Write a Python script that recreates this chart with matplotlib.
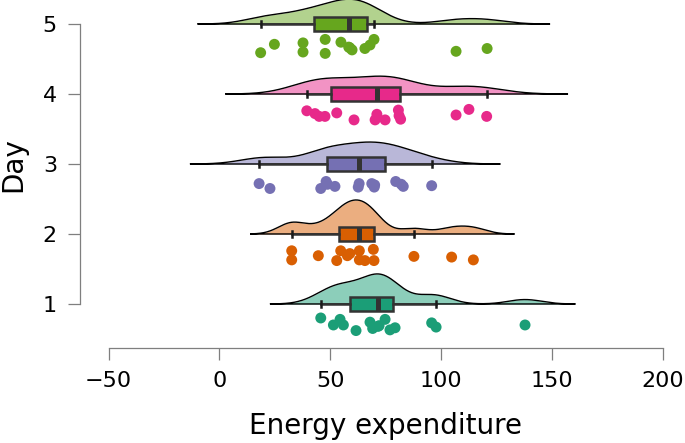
import numpy as np
import matplotlib.pyplot as plt

days = [1, 2, 3, 4, 5]
colors = ['#1b9e77', '#d95f02', '#7570b3', '#e7298a', '#66a61e']
x_ticks = [-50, 0, 50, 100, 150, 200]

# energy expenditure per day
energy_day1 = [45.7, 51.4, 54.4, 55.9, 61.6, 67.9, 69.1, 71.5, 72.0, 74.7, 76.9, 79.2, 95.7, 97.7, 137.8]
energy_day2 = [32.6, 32.6, 44.6, 52.9, 54.7, 57.7, 58.8, 63.1, 63.1, 65.6, 69.4, 69.7, 87.7, 104.7, 114.5]
energy_day3 = [17.9, 22.8, 45.7, 48.1, 48.7, 52.1, 62.6, 63.0, 68.7, 69.8, 70.0, 79.5, 82.0, 82.9, 95.7]
energy_day4 = [39.4, 43.1, 45.0, 47.6, 52.9, 60.7, 70.2, 71.0, 74.7, 80.7, 81.0, 81.7, 106.7, 112.5, 120.5]
energy_day5 = [18.6, 24.8, 37.7, 37.7, 47.7, 47.7, 54.8, 58.3, 58.8, 59.8, 65.6, 67.9, 69.7, 106.7, 120.7]

# vertical jitter of the rain points (below each day)
jitter_day1 = [0.20, 0.30, 0.22, 0.30, 0.38, 0.26, 0.35, 0.32, 0.31, 0.22, 0.37, 0.34, 0.27, 0.33, 0.30]
jitter_day2 = [0.24, 0.37, 0.31, 0.38, 0.24, 0.31, 0.28, 0.24, 0.37, 0.38, 0.22, 0.38, 0.32, 0.33, 0.37]
jitter_day3 = [0.28, 0.35, 0.35, 0.25, 0.29, 0.32, 0.33, 0.28, 0.28, 0.33, 0.30, 0.25, 0.29, 0.32, 0.31]
jitter_day4 = [0.24, 0.28, 0.32, 0.32, 0.27, 0.37, 0.37, 0.29, 0.37, 0.23, 0.31, 0.36, 0.30, 0.22, 0.32]
jitter_day5 = [0.41, 0.29, 0.27, 0.40, 0.22, 0.42, 0.26, 0.33, 0.34, 0.37, 0.35, 0.30, 0.22, 0.39, 0.35]

energy = [energy_day1, energy_day2, energy_day3, energy_day4, energy_day5]
jitter = [jitter_day1, jitter_day2, jitter_day3, jitter_day4, jitter_day5]


def bw_nrd0(x):
    x = np.asarray(x)
    q1, q3 = np.percentile(x, [25, 75])
    lo = min(np.std(x, ddof=1), (q3 - q1) / 1.34)
    return 0.9 * lo * len(x) ** -0.2


def kde(x, cut=3, n=512):
    x = np.asarray(x)
    bw = bw_nrd0(x)
    grid = np.linspace(x.min() - cut * bw, x.max() + cut * bw, n)
    dens = np.exp(-0.5 * ((grid[:, None] - x[None, :]) / bw) ** 2).sum(axis=1)
    dens /= len(x) * bw * np.sqrt(2 * np.pi)
    return grid, dens


plt.rcParams['font.family'] = 'DejaVu Sans'
fig = plt.figure(figsize=(6.85, 4.43), dpi=100)
ax = fig.add_axes([108.5 / 685, 95 / 443, (663 - 108.5) / 685, 348 / 443])

clouds = [kde(e) for e in energy]
max_dens = max(d.max() for g, d in clouds)
scale = 0.486 / max_dens

for day, (grid, dens), col in zip(days, clouds, colors):
    ax.fill_between(grid, day, day + dens * scale, color=col, alpha=0.5, lw=0, zorder=1, clip_on=False)
    ax.plot(np.r_[grid, grid[::-1], grid[0]], np.r_[day + dens * scale, np.full(len(grid), day), day + dens[0] * scale],
            color='black', lw=1.0, zorder=1.5, clip_on=False)

bp = ax.boxplot(energy, positions=days, orientation='horizontal', widths=0.2, whis=1.5,
                showfliers=False, patch_artist=True, capwidths=0.08, zorder=3,
                boxprops=dict(edgecolor='#333333', linewidth=1.8),
                whiskerprops=dict(color='#333333', linewidth=1.8),
                capprops=dict(color='#1a1a1a', linewidth=1.8),
                medianprops=dict(color='#333333', linewidth=3.6, solid_capstyle='butt'))
for patch, col in zip(bp['boxes'], colors):
    patch.set_facecolor(col)

for day, e, j, col in zip(days, energy, jitter, colors):
    ax.scatter(e, day - np.asarray(j), s=62, color=col, edgecolors='none', zorder=2)

ax.set_xlim(-50, 200)
ax.set_ylim(0.371, 5.343)
ax.set_xticks(x_ticks)
ax.set_yticks(days)
ax.set_yticklabels([str(d) for d in days])

for s in ['top', 'right']:
    ax.spines[s].set_visible(False)
ax.spines['left'].set_position(('outward', 20.5))
ax.spines['left'].set_bounds(1, 5)
ax.spines['bottom'].set_bounds(-50, 200)
for s in ['left', 'bottom']:
    ax.spines[s].set_color('#7f7f7f')
    ax.spines[s].set_linewidth(0.9)

ax.tick_params(axis='both', direction='out', length=8.6, width=0.9, color='#7f7f7f',
               labelsize=16, pad=8, labelcolor='black')
ax.set_xlabel('Energy expenditure', fontsize=20, labelpad=15)
ax.set_ylabel('Day', fontsize=20, labelpad=11)
ax.yaxis.label.set_y((348 - 165) / 348)
ax.patch.set_visible(False)

fig.savefig('out.png', dpi=100)
